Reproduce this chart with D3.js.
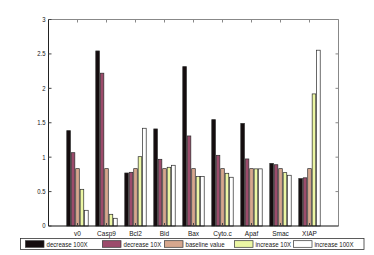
<!DOCTYPE html>
<html><head><meta charset="utf-8">
<script src="https://cdn.jsdelivr.net/npm/d3@7"></script>
<style>body{margin:0;background:#fff}svg{display:block}text{font-family:"Liberation Sans",Arial,sans-serif;fill:#151515}</style>
</head><body>
<script>
const categories = ["v0","Casp9","Bcl2","Bid","Bax","Cyto.c","Apaf","Smac","XIAP"];
const seriesNames = ["decrease 100X","decrease 10X","baseline value","increase 10X","increase 100X"];
const dec100 = [1.385,2.543,0.77,1.41,2.315,1.545,1.49,0.91,0.688];
const dec10  = [1.065,2.22,0.78,0.969,1.308,1.027,0.974,0.89,0.70];
const base   = [0.833,0.833,0.833,0.833,0.833,0.833,0.833,0.833,0.833];
const inc10  = [0.533,0.17,1.007,0.853,0.717,0.766,0.83,0.775,1.919];
const inc100 = [0.228,0.112,1.42,0.882,0.717,0.708,0.83,0.737,2.554];
const series = [dec100,dec10,base,inc10,inc100];
const yTicks = [0,0.5,1,1.5,2,2.5,3];
const colors = ["#140c0e","#9c4b6b","#d6a78e","#ecf7a4","#ffffff"];

const W=374,H=255;
const svg=d3.select("body").append("svg").attr("width",W).attr("height",H);
const L=48.5,R=338.5,T=19.5,B=226;
const x=d3.scaleLinear().domain([0,categories.length+1]).range([L,R]);
const y=d3.scaleLinear().domain([0,3]).range([B,T]);
const nS=series.length;
const gw=Math.min(0.8,nS/(nS+1.5));
const step=gw/nS, bw=step*0.8;
function narrow(f){return sel=>sel.each(function(){const w=this.getComputedTextLength();this.setAttribute("textLength",w*f);this.setAttribute("lengthAdjust","spacingAndGlyphs");});}

const g=svg.append("g");
series.forEach((vals,s)=>{
  g.selectAll(null).data(vals).enter().append("rect")
   .attr("x",(d,i)=>x(i+1-gw/2+step*(s+0.5)-bw/2))
   .attr("width",x(bw)-x(0))
   .attr("y",d=>y(d))
   .attr("height",d=>y(0)-y(d))
   .attr("fill",colors[s])
   .attr("stroke","#2a2a2a").attr("stroke-width",0.7);
});

// box
svg.append("line").attr("x1",L).attr("x2",R).attr("y1",T).attr("y2",T).attr("stroke","#888");
svg.append("line").attr("x1",R).attr("x2",R).attr("y1",T).attr("y2",B).attr("stroke","#888");
svg.append("line").attr("x1",L).attr("x2",L).attr("y1",T).attr("y2",B).attr("stroke","#222");
svg.append("line").attr("x1",L).attr("x2",R).attr("y1",B).attr("y2",B).attr("stroke","#111").attr("stroke-width",1.2);

// ticks
const catTicks=d3.range(1,categories.length+1);
svg.append("g").selectAll("line").data(yTicks).enter().append("line")
  .attr("x1",L).attr("x2",L+3).attr("y1",d=>y(d)).attr("y2",d=>y(d)).attr("stroke","#444");
svg.append("g").selectAll("line").data(yTicks).enter().append("line")
  .attr("x1",R-3).attr("x2",R).attr("y1",d=>y(d)).attr("y2",d=>y(d)).attr("stroke","#888");
svg.append("g").selectAll("line").data(catTicks).enter().append("line")
  .attr("x1",d=>x(d)).attr("x2",d=>x(d)).attr("y1",T).attr("y2",T+3).attr("stroke","#888");
svg.append("g").selectAll("line").data(catTicks).enter().append("line")
  .attr("x1",d=>x(d)).attr("x2",d=>x(d)).attr("y1",B-3).attr("y2",B).attr("stroke","#444");

// tick labels
svg.append("g").selectAll("text").data(yTicks).enter().append("text")
  .attr("x",L-3).attr("y",d=>y(d)+2.4).attr("text-anchor","end").attr("font-size",7)
  .text(d=>String(d)).call(narrow(0.85));
svg.append("g").selectAll("text").data(catTicks).enter().append("text")
  .attr("x",d=>x(d)).attr("y",B+9.5).attr("text-anchor","middle").attr("font-size",7)
  .text(d=>categories[d-1]).call(narrow(0.93));

// legend
const lg=svg.append("g");
lg.append("rect").attr("x",20.5).attr("y",238.5).attr("width",343.5).attr("height",11).attr("fill","#fff").attr("stroke","#333").attr("stroke-width",0.8);
const swX=[25.5,102.5,164.5,234.5,293.5];
seriesNames.forEach((n,i)=>{
  lg.append("rect").attr("x",swX[i]).attr("y",240.7).attr("width",18.5).attr("height",6.6)
    .attr("fill",colors[i]).attr("stroke","#333").attr("stroke-width",0.7);
  lg.append("text").attr("x",swX[i]+21).attr("y",246.7).attr("font-size",7.2).text(n).call(narrow(0.85));
});
</script>
</body></html>
